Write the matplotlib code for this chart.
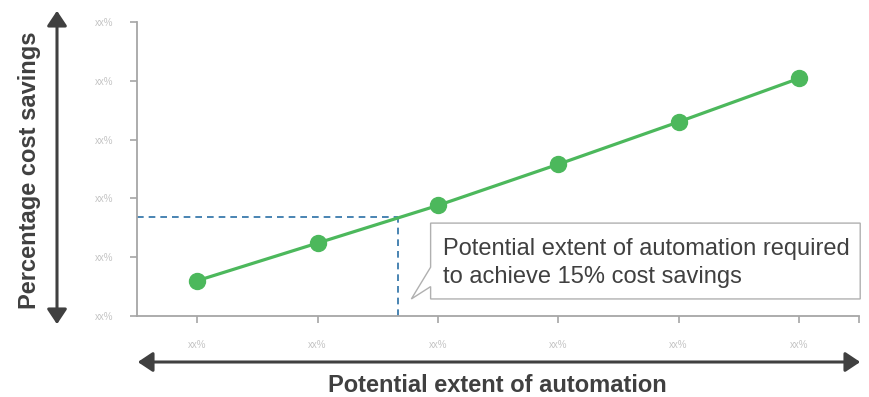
import matplotlib.pyplot as plt
import numpy as np
from matplotlib.patches import Polygon, FancyArrowPatch

# Datos (escala ilustrativa)
categories = ["xx%", "xx%", "xx%", "xx%", "xx%", "xx%"]
savings = [3.0, 6.2, 9.4, 12.9, 16.5, 20.2]
y_ticks = [0, 5, 10, 15, 20, 25]
y_tick_labels = ["xx%", "xx%", "xx%", "xx%", "xx%", "xx%"]
target_saving = 8.4
target_automation = 1.67

plt.rcParams['font.family'] = ['Liberation Sans', 'DejaVu Sans']

fig = plt.figure(figsize=(8.69, 3.97), dpi=100)
W, H = 869, 397
ax = fig.add_axes([137 / W, (H - 316) / H, (859 - 137) / W, (316 - 22) / H])

x = np.arange(len(categories))
ax.plot(x, savings, color="#4cb85c", lw=2.3, marker="o", ms=11.5,
        markerfacecolor="#4cb85c", markeredgecolor="#4cb85c", zorder=3)

# Líneas guía punteadas
ax.plot([-0.5, target_automation], [target_saving, target_saving],
        ls=(0, (4, 3)), color="#2a6fa6", lw=1.2)
ax.plot([target_automation, target_automation], [0, target_saving],
        ls=(0, (4, 3)), color="#2a6fa6", lw=1.2)

ax.set_xlim(-0.5, 5.5)
ax.set_ylim(0, 25)
ax.set_xticks(list(x) + [5.5])
ax.set_xticklabels(categories + [""])
ax.set_yticks(y_ticks)
ax.set_yticklabels(y_tick_labels)
ax.tick_params(colors="#a6a6a6", labelcolor="#c4c4c4", labelsize=7,
               length=5, width=1.2, pad=12)
for s in ["top", "right"]:
    ax.spines[s].set_visible(False)
for s in ["left", "bottom"]:
    ax.spines[s].set_color("#a6a6a6")
    ax.spines[s].set_linewidth(1.3)

# Cuadro de texto con flecha (callout)
bx0, bx1, by0, by1 = 1.94, 5.51, 1.45, 7.9
callout = Polygon([(bx0, by1), (bx1, by1), (bx1, by0), (bx0, by0),
                   (bx0, 2.5), (1.78, by0), (bx0, 4.15)],
                  closed=True, facecolor="white", edgecolor="#b0b0b0",
                  lw=1.0, clip_on=False, zorder=4)
ax.add_patch(callout)
ax.text(2.04, 4.5, "Potential extent of automation required\nto achieve 15% cost savings",
        fontsize=17, color="#404040", va="center", ha="left",
        linespacing=1.32, zorder=5)

# Flechas de los ejes
ax_col = "#404040"
fig.add_artist(FancyArrowPatch(
    (57 / W, (H - 327) / H), (57 / W, (H - 8) / H), transform=fig.transFigure,
    arrowstyle="<|-|>,head_length=9,head_width=6", color=ax_col, lw=2.2,
    mutation_scale=1))
fig.add_artist(FancyArrowPatch(
    (135 / W, (H - 362) / H), (863 / W, (H - 362) / H), transform=fig.transFigure,
    arrowstyle="<|-|>,head_length=9,head_width=6", color=ax_col, lw=2.2,
    mutation_scale=1))

fig.text(30 / W, (H - 170) / H, "Percentage cost savings", rotation=90,
         fontsize=17, fontweight="bold", color="#404040", ha="center", va="center")
fig.text(497 / W, (H - 385) / H, "Potential extent of automation",
         fontsize=17, fontweight="bold", color="#404040", ha="center", va="center")

fig.savefig("out.png", dpi=100)
